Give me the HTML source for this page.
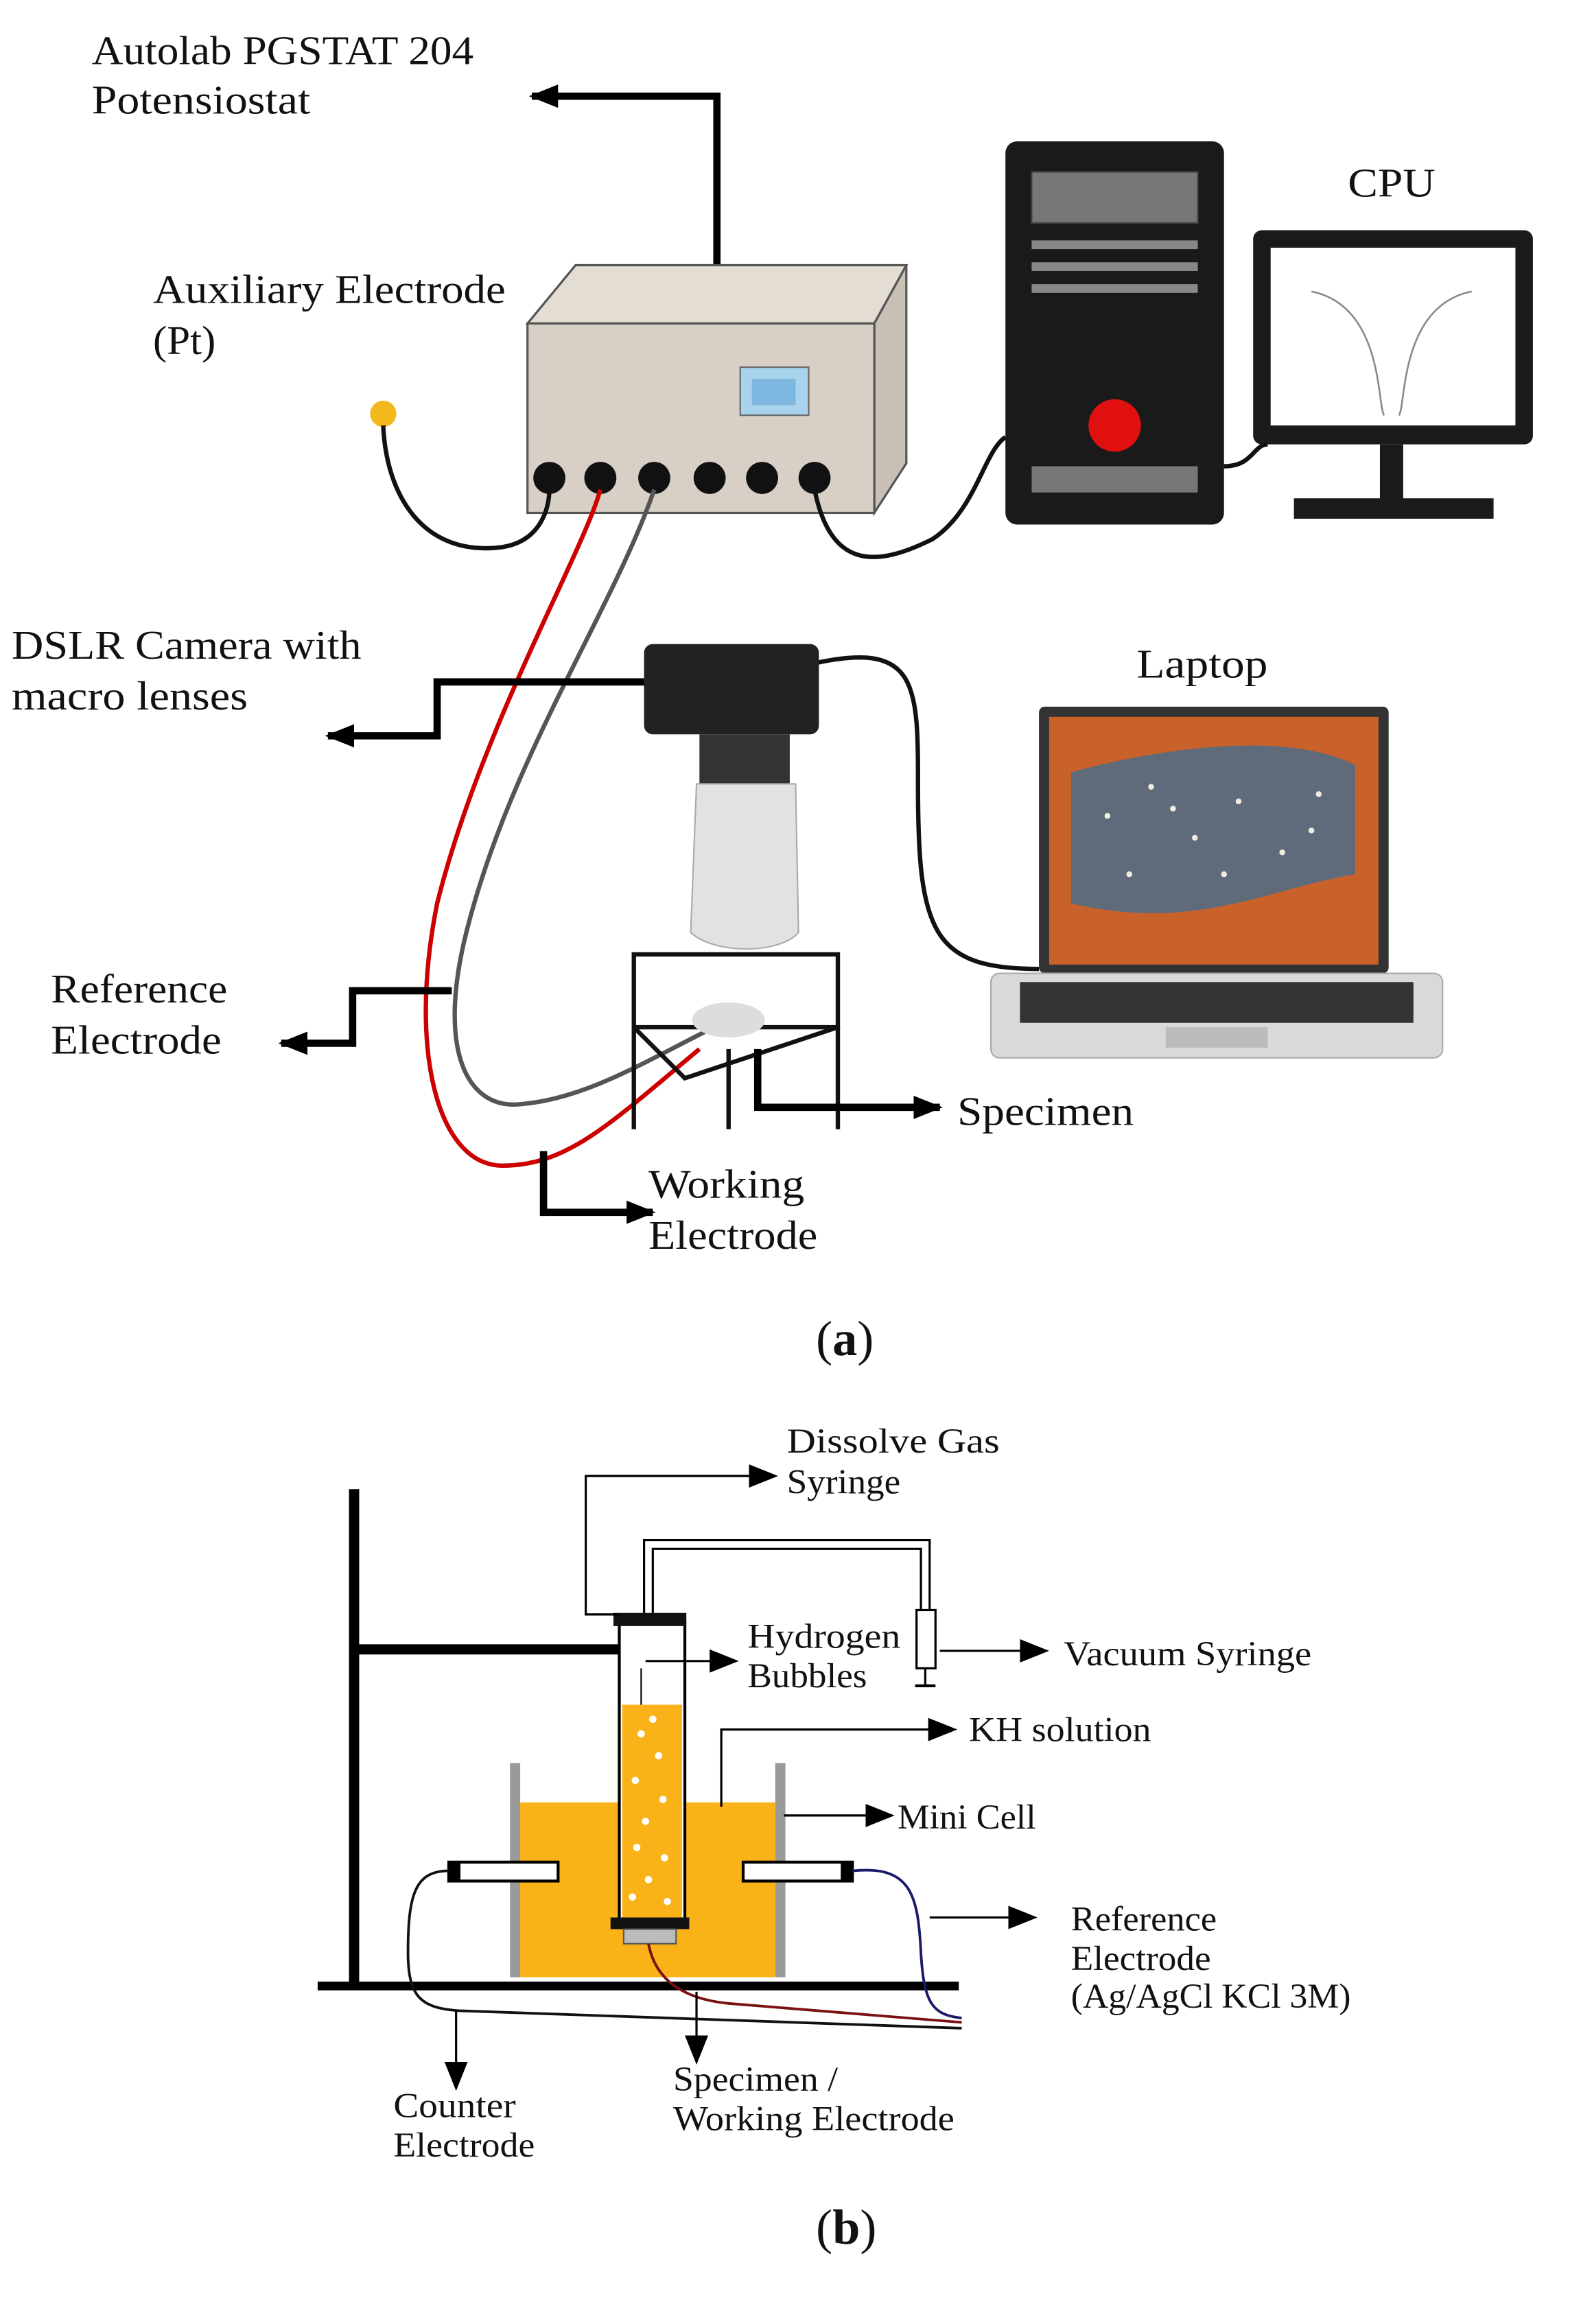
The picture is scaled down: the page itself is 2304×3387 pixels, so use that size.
<!DOCTYPE html>
<html><head><meta charset="utf-8">
<style>
html,body{margin:0;padding:0;background:#fff;}
svg{display:block;}
text{font-family:"Liberation Serif",serif;fill:#111;}
</style></head>
<body>
<svg width="2304" height="3387" viewBox="0 0 1085 1595" xmlns="http://www.w3.org/2000/svg">
<defs>
<marker id="ah2" markerWidth="20" markerHeight="16" refX="18" refY="8" orient="auto" markerUnits="userSpaceOnUse">
<path d="M0,0 L20,8 L0,16 z" fill="#000"/></marker>
</defs>
<rect width="1085" height="1595" fill="#fff"/>
<g lengthAdjust="spacingAndGlyphs">
<!-- (a) -->
<text x="63" y="44" font-size="28" textLength="262" lengthAdjust="spacingAndGlyphs">Autolab PGSTAT 204</text>
<text x="63" y="78" font-size="28" textLength="150" lengthAdjust="spacingAndGlyphs">Potensiostat</text>
<polyline points="492,182 492,66 365,66" fill="none" stroke="#000" stroke-width="5" marker-end="url(#ah2)"/>
<text x="105" y="208" font-size="28" textLength="242" lengthAdjust="spacingAndGlyphs">Auxiliary Electrode</text>
<text x="105" y="243" font-size="28" textLength="43" lengthAdjust="spacingAndGlyphs">(Pt)</text>
<!-- potentiostat -->
<polygon points="362,222 395,182 622,182 600,222" fill="#e4ddd3" stroke="#555" stroke-width="1.5"/>
<polygon points="600,222 622,182 622,318 600,352" fill="#c9c0b5" stroke="#555" stroke-width="1.5"/>
<rect x="362" y="222" width="238" height="130" fill="#d8d0c6" stroke="#555" stroke-width="1.5"/>
<rect x="508" y="252" width="47" height="33" fill="#a9d2ec" stroke="#666"/>
<rect x="516" y="260" width="30" height="18" fill="#7db6de"/>
<g fill="#111"><circle cx="377" cy="328" r="11"/><circle cx="412" cy="328" r="11"/><circle cx="449" cy="328" r="11"/><circle cx="487" cy="328" r="11"/><circle cx="523" cy="328" r="11"/><circle cx="559" cy="328" r="11"/></g>
<circle cx="263" cy="284" r="9" fill="#f2b81c"/>
<path d="M263,292 C265,340 290,380 340,376 C370,374 377,350 377,336" fill="none" stroke="#111" stroke-width="3"/>
<path d="M412,336 C400,380 330,500 300,620 C280,720 300,800 345,800 C390,800 420,770 480,720" fill="none" stroke="#c00" stroke-width="3"/>
<path d="M449,336 C420,420 350,520 320,640 C300,720 320,760 355,758 C400,755 440,730 490,705" fill="none" stroke="#555" stroke-width="3"/>
<path d="M559,336 C570,390 600,390 640,370 C670,350 675,310 690,300" fill="none" stroke="#111" stroke-width="3"/>
<!-- CPU -->
<rect x="690" y="97" width="150" height="263" rx="8" fill="#1a1a1a"/>
<rect x="708" y="118" width="114" height="35" fill="#777" stroke="#444"/>
<rect x="708" y="165" width="114" height="6" fill="#888"/>
<rect x="708" y="180" width="114" height="6" fill="#888"/>
<rect x="708" y="195" width="114" height="6" fill="#888"/>
<circle cx="765" cy="292" r="18" fill="#e01010"/>
<rect x="708" y="320" width="114" height="18" fill="#777"/>
<text x="925" y="135" font-size="28" textLength="60" lengthAdjust="spacingAndGlyphs">CPU</text>
<rect x="860" y="158" width="192" height="147" rx="6" fill="#1a1a1a"/>
<rect x="872" y="170" width="168" height="122" fill="#fff"/>
<path d="M900,200 C950,210 945,280 950,285 M1010,200 C960,210 965,280 960,285" fill="none" stroke="#888" stroke-width="1.2"/>
<rect x="947" y="305" width="16" height="40" fill="#1a1a1a"/>
<rect x="888" y="342" width="137" height="14" fill="#1a1a1a"/>
<path d="M840,320 C860,320 860,305 870,305" fill="none" stroke="#111" stroke-width="3"/>
<!-- DSLR -->
<text x="8" y="452" font-size="28" textLength="240" lengthAdjust="spacingAndGlyphs">DSLR Camera with</text>
<text x="8" y="487" font-size="28" textLength="162" lengthAdjust="spacingAndGlyphs">macro lenses</text>
<polyline points="445,468 300,468 300,505 225,505" fill="none" stroke="#000" stroke-width="5" marker-end="url(#ah2)"/>
<path d="M560,455 C630,440 630,470 630,540 C630,640 640,665 713,665" fill="none" stroke="#111" stroke-width="3"/>
<rect x="442" y="442" width="120" height="62" rx="6" fill="#222"/>
<rect x="480" y="504" width="62" height="34" fill="#333"/>
<path d="M478,538 L546,538 L548,640 C535,655 490,655 474,640 Z" fill="#e2e2e2" stroke="#aaa"/>
<!-- stand -->
<g fill="none" stroke="#111" stroke-width="3">
<rect x="435" y="655" width="140" height="50"/>
<polyline points="435,705 470,740 575,705"/>
<line x1="435" y1="705" x2="435" y2="775"/><line x1="575" y1="705" x2="575" y2="775"/><line x1="500" y1="720" x2="500" y2="775"/>
</g>
<ellipse cx="500" cy="700" rx="25" ry="12" fill="#ddd"/>
<!-- laptop -->
<text x="780" y="465" font-size="28" textLength="90" lengthAdjust="spacingAndGlyphs">Laptop</text>
<rect x="713" y="485" width="240" height="183" rx="4" fill="#333"/>
<rect x="720" y="492" width="226" height="170" fill="#c8622a"/>
<path d="M735,530 C790,515 880,500 930,525 L930,600 C870,610 820,640 735,620 Z" fill="#5f6b7a"/>
<g fill="#f0ece0"><circle cx="760" cy="560" r="2"/><circle cx="790" cy="540" r="2"/><circle cx="820" cy="575" r="2"/><circle cx="850" cy="550" r="2"/><circle cx="880" cy="585" r="2"/><circle cx="905" cy="545" r="2"/><circle cx="775" cy="600" r="2"/><circle cx="840" cy="600" r="2"/><circle cx="900" cy="570" r="2"/><circle cx="805" cy="555" r="2"/></g>
<rect x="680" y="668" width="310" height="58" rx="6" fill="#d9d9d9" stroke="#aaa"/>
<rect x="700" y="674" width="270" height="28" fill="#333"/>
<rect x="800" y="705" width="70" height="14" fill="#bbb"/>
<!-- labels a -->
<text x="35" y="688" font-size="28" textLength="121" lengthAdjust="spacingAndGlyphs">Reference</text>
<text x="35" y="723" font-size="28" textLength="117" lengthAdjust="spacingAndGlyphs">Electrode</text>
<polyline points="310,680 242,680 242,716 193,716" fill="none" stroke="#000" stroke-width="5" marker-end="url(#ah2)"/>
<text x="657" y="772" font-size="28" textLength="121" lengthAdjust="spacingAndGlyphs">Specimen</text>
<polyline points="520,720 520,760 645,760" fill="none" stroke="#000" stroke-width="5" marker-end="url(#ah2)"/>
<text x="445" y="822" font-size="28" textLength="107" lengthAdjust="spacingAndGlyphs">Working</text>
<text x="445" y="857" font-size="28" textLength="116" lengthAdjust="spacingAndGlyphs">Electrode</text>
<polyline points="373,790 373,832 448,832" fill="none" stroke="#000" stroke-width="5" marker-end="url(#ah2)"/>
<text x="560" y="930" font-size="34">(<tspan font-weight="bold">a</tspan>)</text>
<!-- (b) -->
<line x1="243" y1="1022" x2="243" y2="1365" stroke="#000" stroke-width="7"/>
<line x1="243" y1="1132" x2="425" y2="1132" stroke="#000" stroke-width="7"/>
<line x1="218" y1="1363" x2="658" y2="1363" stroke="#000" stroke-width="6"/>
<rect x="350" y="1210" width="7" height="147" fill="#999"/>
<rect x="532" y="1210" width="7" height="147" fill="#999"/>
<rect x="357" y="1237" width="175" height="120" fill="#f9b218"/>
<rect x="425" y="1112" width="45" height="210" fill="#fff" stroke="#000" stroke-width="2"/>
<rect x="427" y="1170" width="41" height="150" fill="#f9b218"/>
<g fill="#fff"><circle cx="440" cy="1190" r="2.5"/><circle cx="452" cy="1205" r="2.5"/><circle cx="436" cy="1222" r="2.5"/><circle cx="455" cy="1235" r="2.5"/><circle cx="443" cy="1250" r="2.5"/><circle cx="437" cy="1268" r="2.5"/><circle cx="456" cy="1275" r="2.5"/><circle cx="445" cy="1290" r="2.5"/><circle cx="434" cy="1302" r="2.5"/><circle cx="458" cy="1305" r="2.5"/><circle cx="448" cy="1180" r="2.5"/></g>
<line x1="440" y1="1170" x2="440" y2="1145" stroke="#000"/>
<rect x="421" y="1107" width="50" height="9" fill="#111"/>
<rect x="419" y="1316" width="54" height="8" fill="#111"/>
<rect x="428" y="1324" width="36" height="10" fill="#bbb" stroke="#555"/>
<rect x="308" y="1278" width="75" height="13" fill="#fff" stroke="#000" stroke-width="2"/>
<rect x="308" y="1278" width="8" height="13" fill="#000"/>
<rect x="510" y="1278" width="75" height="13" fill="#fff" stroke="#000" stroke-width="2"/>
<rect x="577" y="1278" width="8" height="13" fill="#000"/>
<path d="M442,1107 L442,1057 L638,1057 L638,1105 M448,1107 L448,1063 L632,1063 L632,1105" fill="none" stroke="#000" stroke-width="1.5"/>
<rect x="629" y="1105" width="13" height="40" fill="#fff" stroke="#000" stroke-width="1.5"/>
<line x1="635" y1="1145" x2="635" y2="1157" stroke="#000" stroke-width="1.5"/>
<line x1="628" y1="1157" x2="642" y2="1157" stroke="#000" stroke-width="2"/>
<polyline points="425,1108 402,1108 402,1013 532,1013" fill="none" stroke="#000" stroke-width="1.5" marker-end="url(#ah2)"/>
<text x="540" y="997" font-size="24" textLength="146" lengthAdjust="spacingAndGlyphs">Dissolve   Gas</text>
<text x="540" y="1025" font-size="24" textLength="78" lengthAdjust="spacingAndGlyphs">Syringe</text>
<polyline points="443,1140 505,1140" fill="none" stroke="#000" stroke-width="1.5" marker-end="url(#ah2)"/>
<text x="513" y="1131" font-size="24" textLength="105" lengthAdjust="spacingAndGlyphs">Hydrogen</text>
<text x="513" y="1158" font-size="24" textLength="82" lengthAdjust="spacingAndGlyphs">Bubbles</text>
<polyline points="645,1133 718,1133" fill="none" stroke="#000" stroke-width="1.5" marker-end="url(#ah2)"/>
<text x="730" y="1143" font-size="24" textLength="170" lengthAdjust="spacingAndGlyphs">Vacuum Syringe</text>
<polyline points="495,1240 495,1187 655,1187" fill="none" stroke="#000" stroke-width="1.5" marker-end="url(#ah2)"/>
<text x="665" y="1195" font-size="24" textLength="125" lengthAdjust="spacingAndGlyphs">KH solution</text>
<polyline points="538,1246 612,1246" fill="none" stroke="#000" stroke-width="1.5" marker-end="url(#ah2)"/>
<text x="616" y="1255" font-size="24" textLength="95" lengthAdjust="spacingAndGlyphs">Mini Cell</text>
<polyline points="638,1316 710,1316" fill="none" stroke="#000" stroke-width="1.5" marker-end="url(#ah2)"/>
<text x="735" y="1325" font-size="24" textLength="100" lengthAdjust="spacingAndGlyphs">Reference</text>
<text x="735" y="1352" font-size="24" textLength="96" lengthAdjust="spacingAndGlyphs">Electrode</text>
<text x="735" y="1378" font-size="24" textLength="192" lengthAdjust="spacingAndGlyphs">(Ag/AgCl KCl 3M)</text>
<path d="M585,1284 C625,1280 630,1300 632,1340 C634,1375 640,1383 660,1385" fill="none" stroke="#1a1a6a" stroke-width="1.8"/>
<path d="M308,1284 C285,1284 280,1300 280,1340 C280,1372 290,1378 315,1380 L660,1392" fill="none" stroke="#111" stroke-width="1.8"/>
<path d="M445,1334 C450,1360 470,1372 500,1375 L660,1388" fill="none" stroke="#7a1010" stroke-width="1.8"/>
<polyline points="313,1380 313,1433" fill="none" stroke="#000" stroke-width="1.5" marker-end="url(#ah2)"/>
<text x="270" y="1453" font-size="24" textLength="84" lengthAdjust="spacingAndGlyphs">Counter</text>
<text x="270" y="1480" font-size="24" textLength="97" lengthAdjust="spacingAndGlyphs">Electrode</text>
<polyline points="478,1367 478,1415" fill="none" stroke="#000" stroke-width="1.5" marker-end="url(#ah2)"/>
<text x="462" y="1435" font-size="24" textLength="113" lengthAdjust="spacingAndGlyphs">Specimen /</text>
<text x="462" y="1462" font-size="24" textLength="193" lengthAdjust="spacingAndGlyphs">Working Electrode</text>
<text x="560" y="1540" font-size="34">(<tspan font-weight="bold">b</tspan>)</text>
</g>
</svg>
</body></html>
